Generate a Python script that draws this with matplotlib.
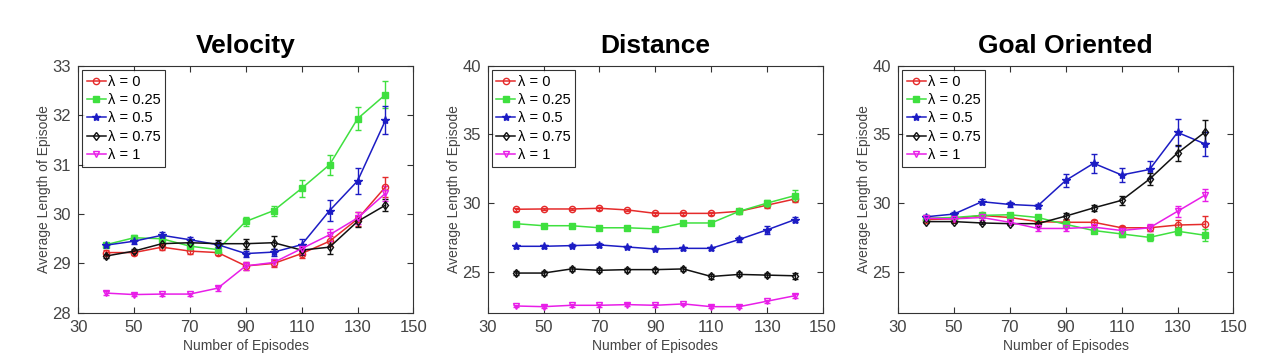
import matplotlib
matplotlib.use('Agg')
import matplotlib.pyplot as plt
from matplotlib.lines import Line2D

plt.rcParams['font.family'] = ['Liberation Sans', 'DejaVu Sans']

episodes = [40, 50, 60, 70, 80, 90, 100, 110, 120, 130, 140]
labels = ['λ = 0', 'λ = 0.25', 'λ = 0.5', 'λ = 0.75', 'λ = 1']

# Velocity
vel_mean = [
    [29.22, 29.22, 29.33, 29.25, 29.22, 28.95, 29.00, 29.20, 29.45, 29.90, 30.55],
    [29.38, 29.52, 29.50, 29.35, 29.28, 29.85, 30.07, 30.52, 31.00, 31.93, 32.42],
    [29.37, 29.45, 29.57, 29.48, 29.38, 29.20, 29.23, 29.38, 30.07, 30.67, 31.90],
    [29.15, 29.25, 29.40, 29.42, 29.40, 29.40, 29.42, 29.27, 29.33, 29.85, 30.18],
    [28.40, 28.37, 28.38, 28.38, 28.50, 28.95, 29.02, 29.30, 29.58, 29.92, 30.42],
]
vel_err = [
    [0.05, 0.04, 0.05, 0.05, 0.04, 0.08, 0.07, 0.08, 0.10, 0.15, 0.20],
    [0.04, 0.05, 0.05, 0.05, 0.05, 0.10, 0.10, 0.17, 0.20, 0.23, 0.27],
    [0.04, 0.05, 0.06, 0.06, 0.05, 0.06, 0.07, 0.12, 0.22, 0.27, 0.28],
    [0.04, 0.04, 0.06, 0.06, 0.07, 0.10, 0.13, 0.10, 0.13, 0.12, 0.12],
    [0.04, 0.03, 0.03, 0.03, 0.05, 0.08, 0.07, 0.10, 0.12, 0.12, 0.15],
]

# Distance
dist_mean = [
    [29.55, 29.57, 29.57, 29.62, 29.50, 29.25, 29.25, 29.25, 29.40, 29.85, 30.30],
    [28.50, 28.35, 28.35, 28.20, 28.20, 28.12, 28.55, 28.55, 29.40, 30.00, 30.55],
    [26.85, 26.85, 26.90, 26.95, 26.80, 26.65, 26.70, 26.70, 27.35, 28.05, 28.80],
    [24.90, 24.90, 25.20, 25.10, 25.15, 25.15, 25.20, 24.65, 24.80, 24.75, 24.70],
    [22.50, 22.45, 22.55, 22.55, 22.60, 22.55, 22.65, 22.45, 22.45, 22.85, 23.25],
]
dist_err = [
    [0.10, 0.10, 0.10, 0.12, 0.10, 0.12, 0.12, 0.12, 0.15, 0.20, 0.25],
    [0.10, 0.10, 0.10, 0.10, 0.10, 0.10, 0.12, 0.12, 0.20, 0.25, 0.40],
    [0.10, 0.10, 0.10, 0.12, 0.10, 0.10, 0.10, 0.12, 0.20, 0.30, 0.20],
    [0.15, 0.15, 0.15, 0.15, 0.15, 0.15, 0.15, 0.20, 0.15, 0.15, 0.20],
    [0.10, 0.10, 0.10, 0.10, 0.10, 0.10, 0.10, 0.10, 0.10, 0.12, 0.15],
]

# Goal Oriented
goal_mean = [
    [28.80, 28.85, 29.10, 28.95, 28.65, 28.60, 28.60, 28.20, 28.20, 28.40, 28.45],
    [28.90, 28.95, 29.10, 29.15, 28.95, 28.45, 28.00, 27.75, 27.50, 27.95, 27.65],
    [29.00, 29.20, 30.10, 29.90, 29.80, 31.65, 32.90, 32.05, 32.45, 35.15, 34.30],
    [28.65, 28.65, 28.55, 28.50, 28.50, 29.05, 29.65, 30.20, 31.75, 33.65, 35.20],
    [28.90, 28.85, 28.95, 28.60, 28.15, 28.15, 28.25, 28.00, 28.20, 29.40, 30.60],
]
goal_err = [
    [0.10, 0.10, 0.15, 0.15, 0.15, 0.20, 0.20, 0.15, 0.20, 0.35, 0.60],
    [0.10, 0.10, 0.15, 0.15, 0.15, 0.20, 0.20, 0.20, 0.25, 0.30, 0.45],
    [0.10, 0.15, 0.20, 0.15, 0.15, 0.45, 0.70, 0.50, 0.60, 1.00, 0.90],
    [0.10, 0.10, 0.10, 0.10, 0.15, 0.20, 0.20, 0.35, 0.45, 0.55, 0.85],
    [0.10, 0.10, 0.15, 0.15, 0.15, 0.15, 0.20, 0.20, 0.25, 0.40, 0.45],
]

titles = ['Velocity', 'Distance', 'Goal Oriented']
colors = ['#e52b2b', '#3fe03f', '#1c1cc4', '#111111', '#e81ee8']
markers = ['o', 's', '*', 'd', 'v']
filled = [False, True, True, False, False]

panels = [
    (vel_mean, vel_err, (28, 33), [28, 29, 30, 31, 32, 33]),
    (dist_mean, dist_err, (22, 40), [25, 30, 35, 40]),
    (goal_mean, goal_err, (22, 40), [25, 30, 35, 40]),
]
lefts = [0.061, 0.381, 0.7016]

fig = plt.figure(figsize=(12.8, 3.6), dpi=100)

for i, (means, errs, ylim, yticks) in enumerate(panels):
    ax = fig.add_axes([lefts[i], 0.131, 0.262, 0.686])
    handles = []
    for j in range(5):
        c = colors[j]
        ms = 6 if markers[j] == '*' else 4.5
        fc = c if filled[j] else 'none'
        ax.errorbar(episodes, means[j], yerr=errs[j], color=c, marker=markers[j],
                    markersize=ms, markerfacecolor=fc, markeredgecolor=c,
                    linewidth=1.1, elinewidth=1.0, capsize=2.5)
        handles.append(Line2D([], [], color=c, marker=markers[j], markersize=ms,
                              markerfacecolor=fc, markeredgecolor=c, linewidth=1.1))
    ax.set_xlim(30, 150)
    ax.set_ylim(*ylim)
    ax.set_xticks([30, 50, 70, 90, 110, 130, 150])
    ax.set_yticks(yticks)
    ax.tick_params(direction='in', top=True, right=True, length=4, pad=5,
                   labelsize=12, colors='#333333', labelcolor='#444444')
    for sp in ax.spines.values():
        sp.set_color('#333333')
        sp.set_linewidth(0.8)
    ax.set_title(titles[i], fontsize=19, fontweight='bold', pad=9)
    ax.set_xlabel('Number of Episodes', fontsize=10, color='#444444', labelpad=3)
    ax.set_ylabel('Average Length of Episode', fontsize=10, color='#444444', labelpad=1)
    leg = ax.legend(handles, labels, loc='upper left', fontsize=10.5, frameon=True,
                    fancybox=False, handlelength=1.3, handletextpad=0.15,
                    borderpad=0.3, labelspacing=0.3, borderaxespad=0.3)
    leg.get_frame().set_edgecolor('black')
    leg.get_frame().set_linewidth(0.8)

fig.savefig('out.png', dpi=100)
